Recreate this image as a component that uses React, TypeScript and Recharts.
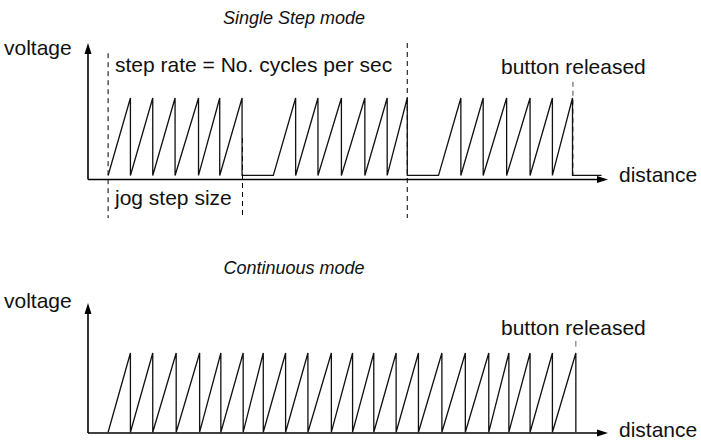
import React from 'react';
import { LineChart, Line, XAxis, YAxis, ReferenceLine, ReferenceDot } from 'recharts';

// distance in "step" units, voltage relative to the ramp peak (1.0)
const stepBurstStarts = [0.9, 8.3, 15.7];
const stepBurstPeaks = [
  [1.9, 2.9, 3.9, 4.95, 5.9, 6.9],
  [9.3, 10.3, 11.35, 12.4, 13.4, 14.3],
  [16.7, 17.7, 18.75, 19.8, 20.8, 21.7],
];
const stepIdleEnd = 23.0;
const stepLow = 0.05;

const contStart = 0.9;
const contPeaks = [
  1.9, 2.9, 3.95, 5.0, 5.95, 6.95, 7.85, 8.85, 9.85, 10.9, 11.85,
  12.8, 13.8, 14.8, 15.85, 16.9, 17.95, 18.85, 19.8, 20.8, 21.85,
];
const contLow = 0.01;
const rampHigh = 1.0;

const xMax = 23.29;

type Pt = { x: number; v: number };

function buildBurst(start: number, peaks: number[], low: number): Pt[] {
  const pts: Pt[] = [{ x: start, v: low }];
  peaks.forEach((p) => {
    pts.push({ x: p, v: rampHigh });
    pts.push({ x: p, v: low });
  });
  return pts;
}

const stepData: Pt[] = [
  ...stepBurstStarts.flatMap((s, i) => buildBurst(s, stepBurstPeaks[i], stepLow)),
  { x: stepIdleEnd, v: stepLow },
];
const contData: Pt[] = buildBurst(contStart, contPeaks, contLow);

const FONT = '"Liberation Sans", Arial, sans-serif';

const ArrowRight = (props: any) => {
  const { cx, cy } = props;
  return <polygon points={`${cx},${cy} ${cx - 11},${cy - 3.5} ${cx - 11},${cy + 3.5}`} fill="#000" />;
};
const ArrowUp = (props: any) => {
  const { cx, cy } = props;
  return <polygon points={`${cx},${cy} ${cx - 3.5},${cy + 11} ${cx + 3.5},${cy + 11}`} fill="#000" />;
};

const label = { fontFamily: FONT, fontSize: 21, fill: '#111' };
const title = { fontFamily: FONT, fontSize: 18, fontStyle: 'italic' as const, fill: '#111' };

const Axes = ({ yTop }: { yTop: number }) => null;

export default function App() {
  const topMin = -0.472;
  const topMax = 1.675;
  const botMin = -0.025;
  const botMax = 1.625;
  return (
    <div style={{ position: 'absolute', left: 0, top: 0, width: 701, height: 440, background: '#fff' }}>
      <LineChart width={701} height={220} data={stepData} margin={{ top: 43, right: 93, bottom: 2, left: 88 }}>
        <XAxis type="number" dataKey="x" domain={[0, xMax]} hide />
        <YAxis type="number" domain={[topMin, topMax]} hide />
        <ReferenceLine segment={[{ x: 0, y: 0 }, { x: xMax - 0.2, y: 0 }]} stroke="#000" strokeWidth={1.6} ifOverflow="visible" />
        <ReferenceLine segment={[{ x: 0, y: 0 }, { x: 0, y: topMax - 0.05 }]} stroke="#000" strokeWidth={1.6} ifOverflow="visible" />
        <ReferenceDot x={xMax} y={0} ifOverflow="visible" shape={ArrowRight} />
        <ReferenceDot x={0} y={topMax} ifOverflow="visible" shape={ArrowUp} />
        <ReferenceLine segment={[{ x: 0.9, y: 1.55 }, { x: 0.9, y: topMin }]} stroke="#000" strokeWidth={1} strokeDasharray="5 4" ifOverflow="visible" />
        <ReferenceLine segment={[{ x: 6.92, y: 0.51 }, { x: 6.92, y: topMin }]} stroke="#000" strokeWidth={1} strokeDasharray="5 4" ifOverflow="visible" />
        <ReferenceLine segment={[{ x: 14.3, y: topMax }, { x: 14.3, y: topMin }]} stroke="#000" strokeWidth={1} strokeDasharray="5 4" ifOverflow="visible" />
        <ReferenceLine segment={[{ x: 21.72, y: 1.2 }, { x: 21.72, y: stepLow }]} stroke="#666" strokeWidth={1.2} strokeDasharray="5 4" ifOverflow="visible" />
        <Line type="linear" dataKey="v" stroke="#111" strokeWidth={1.3} dot={false} isAnimationActive={false} />
        <text x={294} y={24} textAnchor="middle" style={title}>Single Step mode</text>
        <text x={4} y={55} style={label}>voltage</text>
        <text x={115} y={72} style={label}>step rate = No. cycles per sec</text>
        <text x={501} y={74} style={label}>button released</text>
        <text x={115} y={205} style={label}>jog step size</text>
        <text x={619} y={182} style={label}>distance</text>
      </LineChart>
      <LineChart width={701} height={220} data={contData} margin={{ top: 83, right: 93, bottom: 5, left: 88 }}>
        <XAxis type="number" dataKey="x" domain={[0, xMax]} hide />
        <YAxis type="number" domain={[botMin, botMax]} hide />
        <ReferenceLine segment={[{ x: 0, y: 0 }, { x: xMax - 0.2, y: 0 }]} stroke="#000" strokeWidth={1.6} ifOverflow="visible" />
        <ReferenceLine segment={[{ x: 0, y: 0 }, { x: 0, y: botMax - 0.05 }]} stroke="#000" strokeWidth={1.6} ifOverflow="visible" />
        <ReferenceDot x={xMax} y={0} ifOverflow="visible" shape={ArrowRight} />
        <ReferenceDot x={0} y={botMax} ifOverflow="visible" shape={ArrowUp} />
        <ReferenceLine segment={[{ x: 21.85, y: 1.15 }, { x: 21.85, y: 1.08 }]} stroke="#666" strokeWidth={1} ifOverflow="visible" />
        <Line type="linear" dataKey="v" stroke="#111" strokeWidth={1.3} dot={false} isAnimationActive={false} />
        <text x={294} y={54} textAnchor="middle" style={title}>Continuous mode</text>
        <text x={4} y={88} style={label}>voltage</text>
        <text x={501} y={115} style={label}>button released</text>
        <text x={619} y={217} style={label}>distance</text>
      </LineChart>
    </div>
  );
}
